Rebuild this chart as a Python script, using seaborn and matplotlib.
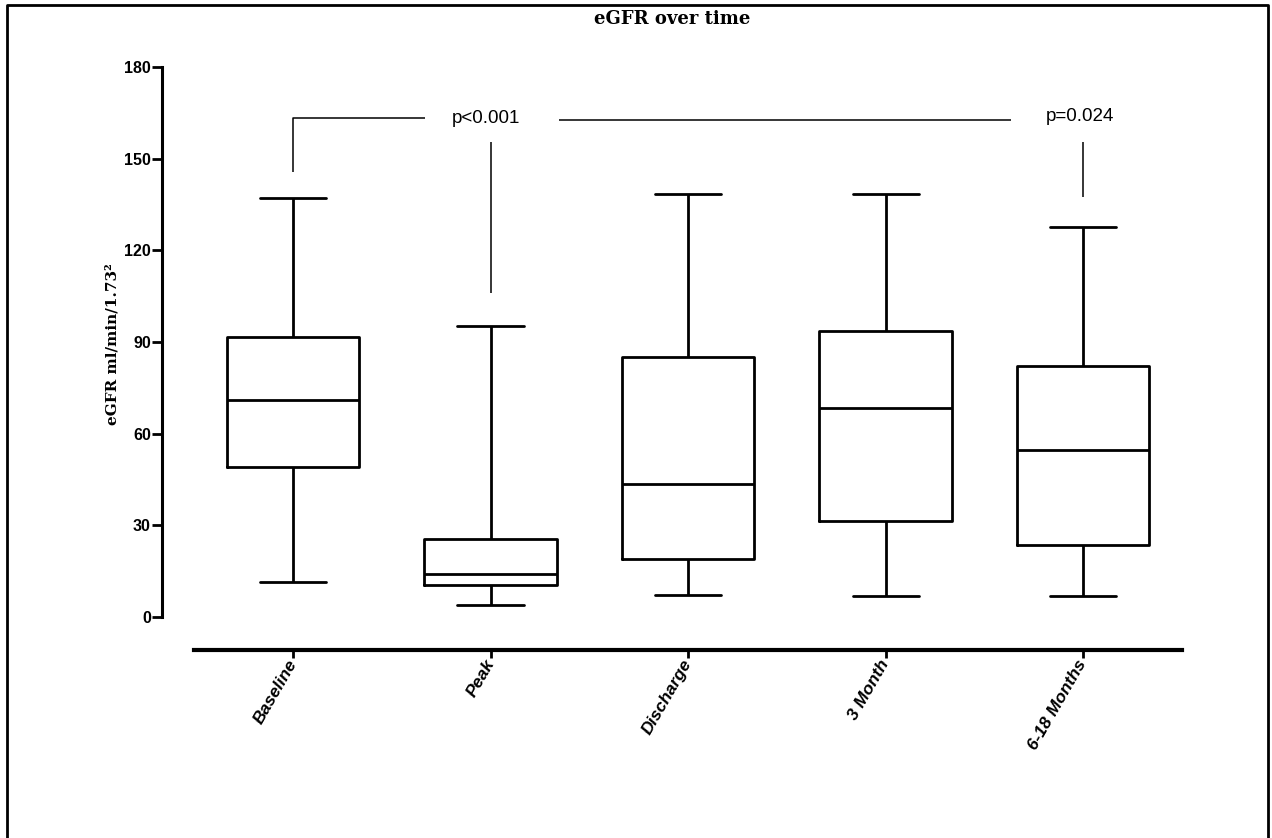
#!/usr/bin/env python3
"""eGFR over time: box plots (min to max whiskers) with p-value brackets."""

import numpy as np
import pandas as pd
import matplotlib
matplotlib.use('Agg')
import matplotlib.pyplot as plt
from matplotlib.lines import Line2D
import seaborn as sns

# Box summary (min, Q1, median, Q3, max)
timepoints = ['Baseline', 'Peak', 'Discharge', '3 Month', '6-18 Months']
egfr_min = [11.3, 3.8, 7.3, 6.9, 6.9]
egfr_q1 = [49.2, 10.4, 19.1, 31.5, 23.6]
egfr_median = [71.0, 14.2, 43.5, 68.4, 54.6]
egfr_q3 = [91.5, 25.6, 85.2, 93.6, 82.1]
egfr_max = [137.0, 95.3, 138.6, 138.6, 127.5]

y_ticks = [0, 30, 60, 90, 120, 150, 180]

# five points per group -> quartiles land exactly on these values
rows = []
for i, tp in enumerate(timepoints):
    for v in (egfr_min[i], egfr_q1[i], egfr_median[i], egfr_q3[i], egfr_max[i]):
        rows.append({'timepoint': tp, 'egfr': v})
df = pd.DataFrame(rows)

sns.set_style('ticks')
plt.rcParams['font.family'] = ['Liberation Sans', 'DejaVu Sans']
plt.rcParams['text.color'] = 'black'
plt.rcParams['axes.edgecolor'] = 'black'
plt.rcParams['xtick.color'] = 'black'
plt.rcParams['ytick.color'] = 'black'

W, H = 1272, 838
fig = plt.figure(figsize=(W / 100, H / 100), dpi=100)
ax = fig.add_axes([162 / W, 188 / H, 1020 / W, 583 / H])

sns.boxplot(data=df, x='timepoint', y='egfr', order=timepoints, whis=(0, 100),
            width=0.67, fill=False, color='black', linewidth=2.0,
            showfliers=False, ax=ax)

ax.set_xlim(-0.663, 4.5)
ax.set_ylim(-10.8, 180)
ax.set_xlabel('')
ax.set_ylabel('')

for side in ['top', 'right']:
    ax.spines[side].set_visible(False)
ax.spines['left'].set_bounds(0, 180)
ax.spines['left'].set_linewidth(2.2)
ax.spines['bottom'].set_bounds(-0.5, 4.5)
ax.spines['bottom'].set_linewidth(3)

ax.set_yticks(y_ticks)
ax.tick_params(axis='y', length=7, width=2, direction='out', labelsize=11.5,
               pad=1, colors='black')
ax.tick_params(axis='x', length=6, width=2, direction='out', pad=2,
               colors='black')
for lab in ax.get_yticklabels():
    lab.set_fontweight('bold')
ax.set_xticks(range(len(timepoints)))
ax.set_xticklabels(timepoints, rotation=60, ha='right', va='center',
                   rotation_mode='anchor', fontsize=12.5, fontweight='bold',
                   fontstyle='italic')

# significance brackets
line_kw = dict(color='black', lw=1.1, solid_capstyle='butt')
ax.plot([0, 0, 0.668], [145.6, 163.2, 163.2], **line_kw)
ax.plot([1.347, 3.635], [162.6, 162.6], **line_kw)
ax.plot([1, 1], [106, 155.4], **line_kw)
ax.plot([4, 4], [137.6, 155.4], **line_kw)
ax.text(0.977, 163.2, 'p<0.001', ha='center', va='center', fontsize=13.5)
ax.text(3.985, 163.9, 'p=0.024', ha='center', va='center', fontsize=13.5)

fig.text(672 / W, 1 - 19.5 / H, 'eGFR over time', ha='center', va='center',
         family=['DejaVu Serif'], fontweight='bold', fontsize=13)
fig.text(113 / W, 1 - 344 / H, 'eGFR ml/min/1.73²', rotation=90,
         ha='center', va='center', family=['DejaVu Serif'],
         fontweight='bold', fontsize=11)

# outer frame (left, top, right)
bx0, bx1, by1 = 7 / W, 1268 / W, 1 - 5 / H
fig.add_artist(Line2D([bx0, bx0, bx1, bx1], [0, by1, by1, 0],
                      transform=fig.transFigure, color='black', lw=2))

fig.savefig('out.png', dpi=100)
print("Saved: out.png")
